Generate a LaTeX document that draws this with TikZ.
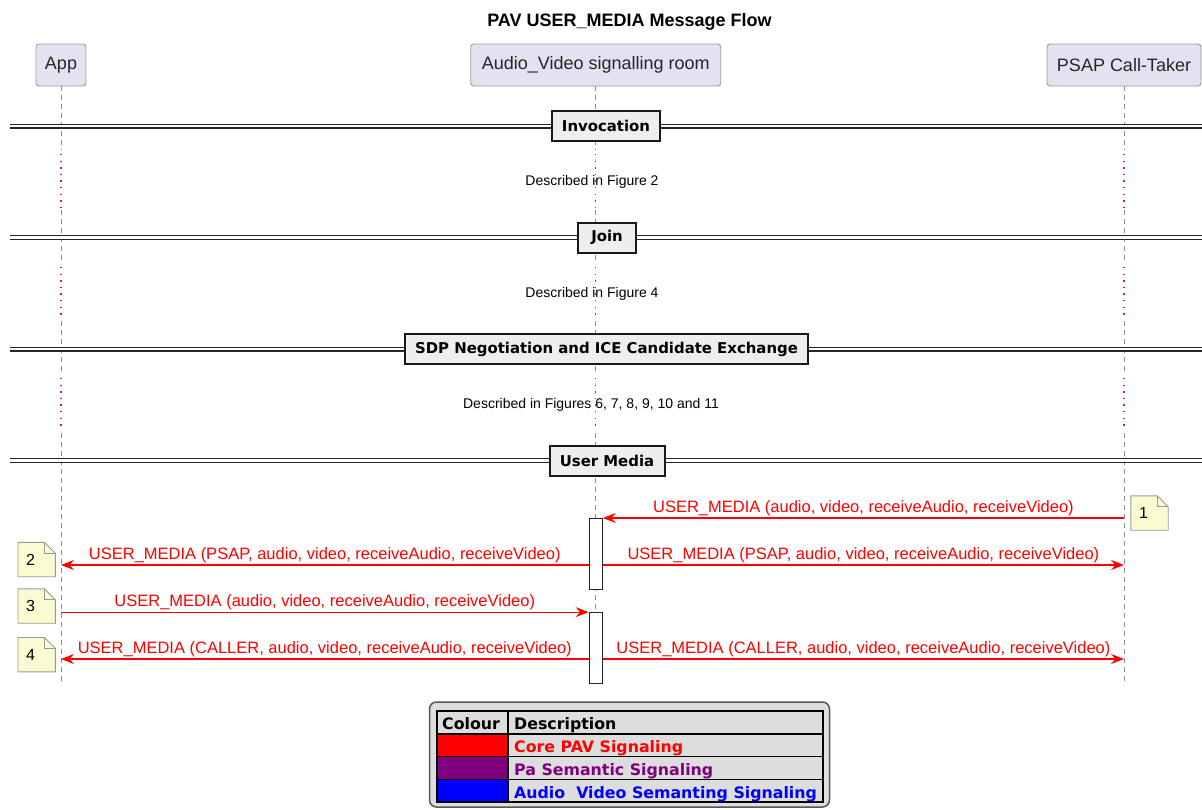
\documentclass[tikz,border=0pt]{standalone}
\usepackage{fontspec}
\setmainfont{Liberation Sans}
\newfontfamily\djfont{DejaVu Sans}
\usetikzlibrary{arrows.meta,backgrounds}

\definecolor{partfill}{HTML}{E2E2F0}
\definecolor{partline}{HTML}{9A9A9A}
\definecolor{lifegray}{HTML}{8C8C8C}
\definecolor{delayred}{HTML}{C42050}
\definecolor{divfill}{HTML}{EEEEEE}
\definecolor{notefill}{HTML}{FBFBD2}
\definecolor{noteline}{HTML}{999999}
\definecolor{legendfill}{HTML}{DDDDDD}
\definecolor{legendline}{HTML}{555555}
\definecolor{sigred}{HTML}{FF0000}
\definecolor{sigpurple}{HTML}{800080}
\definecolor{sigblue}{HTML}{0000FF}

% outline of a note with a folded top-right corner, drawn behind the note text
\newcommand\notefold[1]{%
  \begin{scope}[on background layer]
    \draw[noteedge, fill=notefill] (#1.north west) -- ([xshift=-11pt]#1.north east)
      -- ([yshift=-11pt]#1.north east) -- (#1.south east) -- (#1.south west) -- cycle;
  \end{scope}
  \draw[noteedge] ([xshift=-11pt]#1.north east) |- ([yshift=-11pt]#1.north east);}

\begin{document}
\begin{tikzpicture}[x=1pt,y=-1pt,
  participant/.style={draw=partline, line width=0.9pt, fill=partfill, rounded corners=3pt,
    minimum height=42pt, inner sep=0pt, font=\fontsize{18}{21}\selectfont, text=black!85},
  divider/.style={draw=black!90, line width=2pt, fill=divfill, minimum height=30pt,
    inner sep=0pt, font=\djfont\bfseries\fontsize{14.9}{17}\selectfont},
  divline/.style={draw=black!85, double=white, double distance=2.6pt, line width=1.2pt},
  life/.style={draw=lifegray, line width=0.9pt, dash pattern=on 5pt off 4pt},
  delay/.style={draw=delayred, line width=1.4pt, dash pattern=on 1.4pt off 5.2pt},
  delaytext/.style={font=\fontsize{14}{16}\selectfont, inner sep=0pt},
  actbox/.style={draw=black!85, fill=white, line width=1.3pt, minimum width=13pt, inner sep=0pt},
  msg/.style={draw=sigred, line width=1.1pt, -{Stealth[length=13pt,width=10pt,inset=4.5pt]}},
  msglabel/.style={text=sigred, font=\fontsize{16.5}{19}\selectfont, anchor=base,
    inner sep=0pt, yshift=6pt},
  notebox/.style={minimum width=37pt, minimum height=34pt, inner xsep=8pt, inner ysep=0pt,
    text width=21pt, align=left, font=\fontsize{16}{18}\selectfont},
  noteedge/.style={draw=noteline, line width=0.9pt},
  legendtext/.style={font=\djfont\bfseries\fontsize{15.8}{18}\selectfont, inner sep=0pt, anchor=base west},
]
\useasboundingbox (0,0) rectangle (1202,809);

% title
\node[font=\bfseries\fontsize{18}{21}\selectfont, anchor=base, inner sep=0pt] (title) at (629.5,26.7)
  {PAV USER\_MEDIA Message Flow};

% participants
\node[participant, minimum width=50pt] (app) at (61,65) {App};
\node[participant, minimum width=250pt] (room) at (595.7,65) {Audio\_Video signalling room};
\node[participant, minimum width=154pt] (psap) at (1124,65) {PSAP Call-Taker};

% lifelines: dashed, with dotted stretches for the delays
\foreach \p in {app,room,psap}{
  \draw[life]  (\p.south) -- (\p.south |- 0,150);
  \draw[delay] (\p.south |- 0,154) -- (\p.south |- 0,208);
  \draw[life]  (\p.south |- 0,210) -- (\p.south |- 0,264);
  \draw[delay] (\p.south |- 0,267) -- (\p.south |- 0,318);
  \draw[life]  (\p.south |- 0,321) -- (\p.south |- 0,375);
  \draw[delay] (\p.south |- 0,378) -- (\p.south |- 0,430);
  \draw[life]  (\p.south |- 0,433) -- (\p.south |- 0,685);
}

% section dividers
\coordinate (lft) at (10,0);
\coordinate (rgt) at (1202,0);
\draw[divline] (lft |- 0,126) -- (rgt |- 0,126);
\node[divider, minimum width=108pt] (invocation) at (606,126) {Invocation};
\draw[divline] (lft |- 0,237.5) -- (rgt |- 0,237.5);
\node[divider, minimum width=58pt] (join) at (607,237.5) {Join};
\draw[divline] (lft |- 0,349) -- (rgt |- 0,349);
\node[divider, minimum width=403pt] (sdp) at (606.5,349) {SDP Negotiation and ICE Candidate Exchange};
\draw[divline] (lft |- 0,460.5) -- (rgt |- 0,460.5);
\node[divider, minimum width=115pt] (usermedia) at (607,460.5) {User Media};

% delay texts
\node[delaytext] (d1) at (592,182) {Described in Figure 2};
\node[delaytext] (d2) at (592,294) {Described in Figure 4};
\node[delaytext] (d3) at (591,405) {Described in Figures 6, 7, 8, 9, 10 and 11};

% activations on the signalling room
\node[actbox, minimum height=71pt] (act1) at (595.7,553.8) {};
\node[actbox, minimum height=70.5pt] (act2) at (595.7,648) {};

% messages
\draw[msg] (psap.south |- 0,518) -- (act1.east |- 0,518)
  node[msglabel, midway] {USER\_MEDIA (audio, video, receiveAudio, receiveVideo)};
\draw[msg] (act1.west |- 0,565) -- (app.south |- 0,565)
  node[msglabel, midway] {USER\_MEDIA (PSAP, audio, video, receiveAudio, receiveVideo)};
\draw[msg] (act1.east |- 0,565) -- (psap.south |- 0,565)
  node[msglabel, midway] {USER\_MEDIA (PSAP, audio, video, receiveAudio, receiveVideo)};
\draw[msg] (app.south |- act2.north) -- (act2.north west)
  node[msglabel, midway] {USER\_MEDIA (audio, video, receiveAudio, receiveVideo)};
\draw[msg] (act2.west |- 0,659) -- (app.south |- 0,659)
  node[msglabel, midway] {USER\_MEDIA (CALLER, audio, video, receiveAudio, receiveVideo)};
\draw[msg] (act2.east |- 0,659) -- (psap.south |- 0,659)
  node[msglabel, midway] {USER\_MEDIA (CALLER, audio, video, receiveAudio, receiveVideo)};

% notes
\node[notebox] (note1) at (1149.5,513) {1};
\notefold{note1}
\node[notebox] (note2) at (36.7,559.5) {2};
\notefold{note2}
\node[notebox] (note3) at (36.7,606) {3};
\notefold{note3}
\node[notebox] (note4) at (36.7,654.7) {4};
\notefold{note4}

% legend
\node[draw=legendline, line width=1.5pt, fill=legendfill, rounded corners=7pt,
  minimum width=400pt, minimum height=105pt, inner sep=0pt] (legend) at (629.5,754.5) {};
\draw[line width=1.3pt, fill=legendfill] (437,711) rectangle (823,802);
\fill[sigred]    (437,734) rectangle (508,756.7);
\fill[sigpurple] (437,756.7) rectangle (508,779.3);
\fill[sigblue]   (437,779.3) rectangle (508,802);
\draw[line width=1.3pt] (437,734) -- (823,734) (437,756.7) -- (823,756.7)
  (437,779.3) -- (823,779.3) (508,711) -- (508,802) (437,711) rectangle (823,802);
\node[legendtext] (hcolour) at (442,729) {Colour};
\node[legendtext] (hdesc) at (514,729) {Description};
\node[legendtext, text=sigred] (lcore) at (514,752.3) {Core PAV Signaling};
\node[legendtext, text=sigpurple] (lpa) at (514,775) {Pa Semantic Signaling};
\node[legendtext, text=sigblue] (lav) at (514,798) {Audio\ \ Video Semanting Signaling};
\end{tikzpicture}
\end{document}
